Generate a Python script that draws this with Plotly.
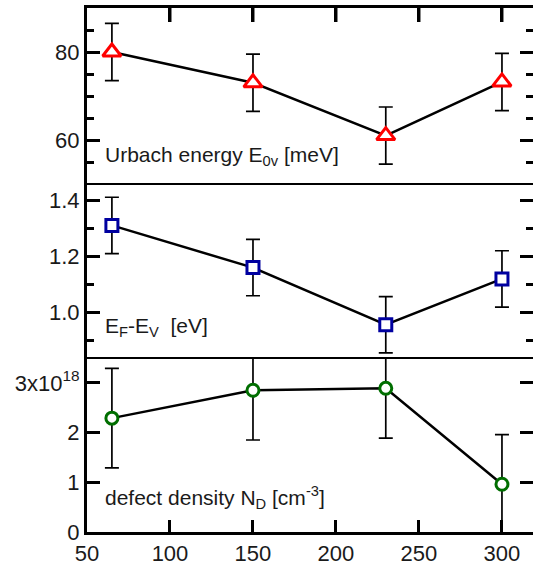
import plotly.graph_objects as go

# ---- data ----
temperature = [65, 150, 230, 300]

urbach_energy = [80.0, 73.0, 61.0, 73.2]
urbach_err = [6.5, 6.5, 6.5, 6.5]

ef_ev = [1.31, 1.16, 0.957, 1.12]
ef_ev_err = [0.10, 0.10, 0.10, 0.10]

defect_density = [2.29, 2.85, 2.89, 0.96]   # in units of 1e18 cm^-3
defect_err = [1.0, 1.0, 1.0, 1.0]

x_ticks = [50, 100, 150, 200, 250, 300]
nd_tickvals = [0, 1, 2, 3]
nd_ticktext = ["0", "1", "2", "3x10<sup>18</sup>"]

FONT = "Liberation Sans, Arial, sans-serif"

fig = go.Figure()

def add_series(y, err, xa, ya, symbol, color, size):
    fig.add_trace(go.Scatter(
        x=temperature, y=y, xaxis=xa, yaxis=ya,
        mode="lines+markers",
        line=dict(color="black", width=2.5),
        marker=dict(symbol=symbol, size=size, color="white",
                    line=dict(color=color, width=3)),
        error_y=dict(type="data", array=err, visible=True,
                     color="black", thickness=1.7, width=7),
        showlegend=False,
    ))

add_series(urbach_energy, urbach_err, "x", "y", "triangle-up", "#ff0000", 16)
add_series(ef_ev, ef_ev_err, "x2", "y2", "square", "#0000a0", 12)
add_series(defect_density, defect_err, "x3", "y3", "circle", "#006e00", 12)

d_bot = [0.0, 0.3321]
d_mid = [0.3321, 0.6641]
d_top = [0.6641, 1.0]
xr = [50, 318.7]
top_range = [50, 90]

# top-edge tick marks of the frame (placed at the tick values on the upper range limit)
fig.add_trace(go.Scatter(
    x=x_ticks[1:], y=[top_range[1]] * len(x_ticks[1:]), xaxis="x", yaxis="y",
    mode="markers", cliponaxis=True, hoverinfo="skip", showlegend=False,
    marker=dict(symbol="line-ns", size=20, color="black",
                line=dict(color="black", width=3)),
))

tickfont = dict(family=FONT, size=22, color="#1a1a1a")

common_tick = dict(ticks="inside", tickwidth=3, tickcolor="black",
                   showgrid=False, zeroline=False, automargin=False)

fig.update_layout(
    template="none",
    width=533, height=566,
    margin=dict(l=87, r=0, t=8, b=34),
    paper_bgcolor="white", plot_bgcolor="white",
    font=dict(family=FONT, size=20, color="#1a1a1a"),
    xaxis=dict(domain=[0, 1], anchor="y", range=xr, side="top",
               showline=True, linewidth=3, linecolor="black",
               ticklen=14, tickmode="array", tickvals=x_ticks,
               showticklabels=False, **common_tick),
    xaxis2=dict(domain=[0, 1], anchor="y2", range=xr,
                showline=False, showticklabels=False, ticks="",
                showgrid=False, zeroline=False),
    xaxis3=dict(domain=[0, 1], anchor="y3", range=xr,
                showline=True, linewidth=3, linecolor="black",
                ticklen=12, tickvals=x_ticks, tickfont=tickfont, **common_tick),
    yaxis=dict(domain=d_top, anchor="x", range=top_range,
               showline=True, linewidth=3, linecolor="black", mirror="ticks",
               ticklen=13, tickvals=[60, 80], tickfont=tickfont,
               minor=dict(tickvals=[55, 65, 70, 75, 85], ticks="inside", ticklen=7,
                          tickwidth=3, tickcolor="black", showgrid=False),
               **common_tick),
    yaxis2=dict(domain=d_mid, anchor="x2", range=[0.839, 1.457],
                showline=True, linewidth=3, linecolor="black", mirror="ticks",
                ticklen=13, tickvals=[1.0, 1.2, 1.4], ticktext=["1.0", "1.2", "1.4"],
                tickfont=tickfont,
                minor=dict(tickvals=[0.9, 1.1, 1.3], ticks="inside", ticklen=7,
                           tickwidth=3, tickcolor="black", showgrid=False),
                **common_tick),
    yaxis3=dict(domain=d_bot, anchor="x3", range=[0, 3.5],
                showline=True, linewidth=3, linecolor="black", mirror="ticks",
                ticklen=13, tickvals=nd_tickvals, ticktext=nd_ticktext, tickfont=tickfont,
                **common_tick),
)

# panel dividers
for yd in (d_mid[1], d_bot[1]):
    fig.add_shape(type="line", xref="paper", yref="paper", x0=0, x1=1, y0=yd, y1=yd,
                  line=dict(color="black", width=2))

ann_font = dict(family=FONT, size=21, color="#1a1a1a")
fig.add_annotation(text="Urbach energy E<sub>0v</sub> [meV]", xref="x domain", yref="y domain",
                   x=0.036, y=0.16, xanchor="left", yanchor="middle", showarrow=False, font=ann_font)
fig.add_annotation(text="E<sub>F</sub>-E<sub>V</sub>  [eV]", xref="x2 domain", yref="y2 domain",
                   x=0.036, y=0.18, xanchor="left", yanchor="middle", showarrow=False, font=ann_font)
fig.add_annotation(text="defect density N<sub>D</sub> [cm<sup>-3</sup>]", xref="x3 domain", yref="y3 domain",
                   x=0.036, y=0.20, xanchor="left", yanchor="middle", showarrow=False, font=ann_font)

fig.write_html("out.html", config={"displayModeBar": False},
               post_script="document.body.style.margin='0';")
